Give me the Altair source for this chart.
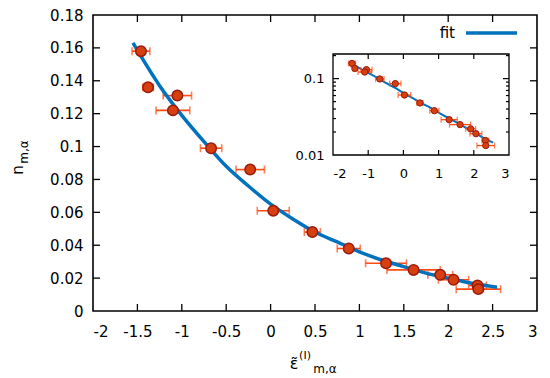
import altair as alt
import pandas as pd

# ---- data ----
eps = [-1.46, -1.38, -1.05, -1.10, -0.67, -0.23, 0.03, 0.47, 0.88, 1.30, 1.61, 1.91, 2.06, 2.33, 2.34]
n_val = [0.158, 0.136, 0.131, 0.122, 0.099, 0.086, 0.061, 0.048, 0.038, 0.029, 0.025, 0.022, 0.019, 0.0155, 0.0133]
eps_err = [0.10, 0.06, 0.16, 0.19, 0.12, 0.16, 0.18, 0.09, 0.13, 0.23, 0.30, 0.14, 0.17, 0.10, 0.25]

fit_x = [-1.55, -1.25, -1.0, -0.75, -0.5, -0.25, 0.0, 0.25, 0.5, 0.75, 1.0, 1.25, 1.5, 1.75, 2.0, 2.25, 2.55]
fit_y = [0.163, 0.137, 0.119, 0.103, 0.088, 0.076, 0.065, 0.056, 0.048, 0.042, 0.036, 0.031, 0.027, 0.023, 0.020, 0.017, 0.0145]

main_xlabels = [-2, -1.5, -1, -0.5, 0, 0.5, 1, 1.5, 2, 2.5, 3]
main_ylabels = [0, 0.02, 0.04, 0.06, 0.08, 0.1, 0.12, 0.14, 0.16, 0.18]
main_xticks = [-1.5, -1, -0.5, 0, 0.5, 1, 1.5, 2, 2.5]
main_yticks = [0.02, 0.04, 0.06, 0.08, 0.1, 0.12, 0.14, 0.16]
inset_xlabels = [-2, -1, 0, 1, 2, 3]
inset_ylabels = [0.01, 0.1]
inset_xticks = [-1, 0, 1, 2]
inset_ymajor = [0.1]
inset_yminor = [0.02, 0.03, 0.04, 0.05, 0.06, 0.07, 0.08, 0.09, 0.2]

W, H = 444, 296
FONT = "DejaVu Sans"
LINE = "#0072bd"
ERR = "#ff4a12"
FILL = "#d6400f"
EDGE = "#9a1a0c"
HYPHEN = "replace(datum.label, '\u2212', '-')"

pts = pd.DataFrame({"x": eps, "y": n_val, "err": eps_err})
pts["lo"] = pts["x"] - pts["err"]
pts["hi"] = pts["x"] + pts["err"]
caps = pd.concat([pd.DataFrame({"x": pts["lo"], "y": pts["y"]}),
                  pd.DataFrame({"x": pts["hi"], "y": pts["y"]})])
fit = pd.DataFrame({"x": fit_x, "y": fit_y})

# inset placement inside the plot area (pixels)
IX0, IX1, IY0, IY1 = 240, 416, 140, 39

def mx():
    return alt.Scale(domain=[-2, 3], nice=False, zero=False)

def my():
    return alt.Scale(domain=[0, 0.18], nice=False, zero=False)

def ix():
    return alt.Scale(domain=[-2, 3], range=[IX0, IX1], nice=False, zero=False)

def iy():
    return alt.Scale(type="log", domain=[0.01, 0.21], range=[IY0, IY1], nice=False)

xaxis = alt.Axis(orient="bottom", values=main_xlabels, format="~g", labelExpr=HYPHEN,
                 ticks=False, domain=False, grid=False, labelPadding=13,
                 labelFontSize=15, labelFont=FONT, labelColor="black", title=None)
yaxis = alt.Axis(orient="left", values=main_ylabels, format="~g",
                 ticks=False, domain=False, grid=False, labelPadding=10,
                 labelFontSize=15, labelFont=FONT, labelColor="black", title=None)
ixaxis = alt.Axis(orient="bottom", offset=-(H - IY0), values=inset_xlabels, format="~g",
                  labelExpr=HYPHEN,
                  ticks=False, domain=False, grid=False, labelPadding=12,
                  labelFontSize=13, labelFont=FONT, labelColor="black", title=None)
iyaxis = alt.Axis(orient="left", offset=-IX0, values=inset_ylabels, format="~g",
                  ticks=False, domain=False, grid=False, labelPadding=9,
                  labelFontSize=13, labelFont=FONT, labelColor="black", title=None)

# ---- main panel ----
m_err = alt.Chart(pts).mark_rule(color=ERR, strokeWidth=1.6).encode(
    x=alt.X("lo:Q", scale=mx(), axis=xaxis), x2="hi:Q",
    y=alt.Y("y:Q", scale=my(), axis=yaxis))
m_caps = alt.Chart(caps).mark_tick(color=ERR, orient="vertical", size=8, thickness=1.6).encode(
    x=alt.X("x:Q", scale=mx(), axis=None), y=alt.Y("y:Q", scale=my(), axis=None))
m_fit = alt.Chart(fit).mark_line(color=LINE, strokeWidth=3.5, interpolate="monotone").encode(
    x=alt.X("x:Q", scale=mx(), axis=None), y=alt.Y("y:Q", scale=my(), axis=None))
m_pts = alt.Chart(pts).mark_point(filled=True, fill=FILL, stroke=EDGE, strokeWidth=1.5,
                                  size=110, opacity=1, shape="circle").encode(
    x=alt.X("x:Q", scale=mx(), axis=None), y=alt.Y("y:Q", scale=my(), axis=None))

xt = pd.DataFrame({"t": main_xticks})
yt = pd.DataFrame({"t": main_yticks})
m_ticks = [
    alt.Chart(xt).mark_rule(color="black", strokeWidth=1.3).encode(
        x=alt.X("t:Q", scale=mx(), axis=None), y=alt.value(H), y2=alt.value(H - 7)),
    alt.Chart(xt).mark_rule(color="black", strokeWidth=1.3).encode(
        x=alt.X("t:Q", scale=mx(), axis=None), y=alt.value(0), y2=alt.value(7)),
    alt.Chart(yt).mark_rule(color="black", strokeWidth=1.3).encode(
        y=alt.Y("t:Q", scale=my(), axis=None), x=alt.value(0), x2=alt.value(7)),
    alt.Chart(yt).mark_rule(color="black", strokeWidth=1.3).encode(
        y=alt.Y("t:Q", scale=my(), axis=None), x=alt.value(W), x2=alt.value(W - 7)),
]

lab = pd.DataFrame({"label": ["fit"]})
leg_text = alt.Chart(lab).mark_text(align="right", baseline="middle", fontSize=15, font=FONT,
                                    color="black").encode(
    text="label:N", x=alt.value(362), y=alt.value(18))
leg_line = alt.Chart(lab).mark_rule(color=LINE, strokeWidth=3.5).encode(
    x=alt.value(373), x2=alt.value(424), y=alt.value(18))

# axis titles with sub/superscripts
title_text = ["n", "m,α", "ε̃", "(I)", "m,α"]
title_px = [-75, -69, 201, 212, 232]
title_py = [155, 137, 349, 341, 354]
title_fs = [15, 12, 16, 11, 12]
title_ang = [270, 270, 0, 0, 0]
titles = []
for t, px, py, fs, ang in zip(title_text, title_px, title_py, title_fs, title_ang):
    titles.append(alt.Chart(lab).mark_text(align="center", baseline="middle", font=FONT,
                                           fontSize=fs, angle=ang,
                                           color="black", text=t).encode(
        x=alt.value(px), y=alt.value(py)))

# ---- inset ----
frame = alt.Chart(lab).mark_rect(fill="white", stroke="black", strokeWidth=1.3).encode(
    x=alt.X(datum=-2, scale=ix(), axis=ixaxis), x2=alt.X2(datum=3),
    y=alt.Y(datum=0.01, scale=iy(), axis=iyaxis), y2=alt.Y2(datum=0.21))
i_err = alt.Chart(pts).mark_rule(color=ERR, strokeWidth=1.3).encode(
    x=alt.X("lo:Q", scale=ix(), axis=None), x2="hi:Q",
    y=alt.Y("y:Q", scale=iy(), axis=None))
i_caps = alt.Chart(caps).mark_tick(color=ERR, orient="vertical", size=6, thickness=1.3).encode(
    x=alt.X("x:Q", scale=ix(), axis=None), y=alt.Y("y:Q", scale=iy(), axis=None))
i_fit = alt.Chart(fit).mark_line(color=LINE, strokeWidth=2, interpolate="monotone").encode(
    x=alt.X("x:Q", scale=ix(), axis=None), y=alt.Y("y:Q", scale=iy(), axis=None))
i_pts = alt.Chart(pts).mark_point(filled=True, fill=FILL, stroke=EDGE, strokeWidth=1,
                                  size=40, opacity=1, shape="circle").encode(
    x=alt.X("x:Q", scale=ix(), axis=None), y=alt.Y("y:Q", scale=iy(), axis=None))

ixt = pd.DataFrame({"t": inset_xticks})
iymaj = pd.DataFrame({"t": inset_ymajor})
iymin = pd.DataFrame({"t": inset_yminor})
i_ticks = [
    alt.Chart(ixt).mark_rule(color="black", strokeWidth=1.2).encode(
        x=alt.X("t:Q", scale=ix(), axis=None), y=alt.value(IY0), y2=alt.value(IY0 - 5)),
    alt.Chart(ixt).mark_rule(color="black", strokeWidth=1.2).encode(
        x=alt.X("t:Q", scale=ix(), axis=None), y=alt.value(IY1), y2=alt.value(IY1 + 5)),
    alt.Chart(iymaj).mark_rule(color="black", strokeWidth=1.2).encode(
        y=alt.Y("t:Q", scale=iy(), axis=None), x=alt.value(IX0), x2=alt.value(IX0 + 6)),
    alt.Chart(iymaj).mark_rule(color="black", strokeWidth=1.2).encode(
        y=alt.Y("t:Q", scale=iy(), axis=None), x=alt.value(IX1), x2=alt.value(IX1 - 6)),
    alt.Chart(iymin).mark_rule(color="black", strokeWidth=1.2).encode(
        y=alt.Y("t:Q", scale=iy(), axis=None), x=alt.value(IX0), x2=alt.value(IX0 + 3)),
    alt.Chart(iymin).mark_rule(color="black", strokeWidth=1.2).encode(
        y=alt.Y("t:Q", scale=iy(), axis=None), x=alt.value(IX1), x2=alt.value(IX1 - 3)),
]

chart = alt.layer(
    m_err, m_caps, m_fit, m_pts, *m_ticks, leg_text, leg_line, *titles,
    frame, i_fit, i_err, i_caps, i_pts, *i_ticks,
).resolve_scale(x="independent", y="independent").properties(
    width=W, height=H,
    autosize=alt.AutoSizeParams(type="none"),
    padding={"left": 85, "top": 7, "right": 5, "bottom": 66},
    background="white",
).configure_view(stroke="black", strokeWidth=1.6)

chart.save("out.html", embed_options={"renderer": "svg", "actions": False})
